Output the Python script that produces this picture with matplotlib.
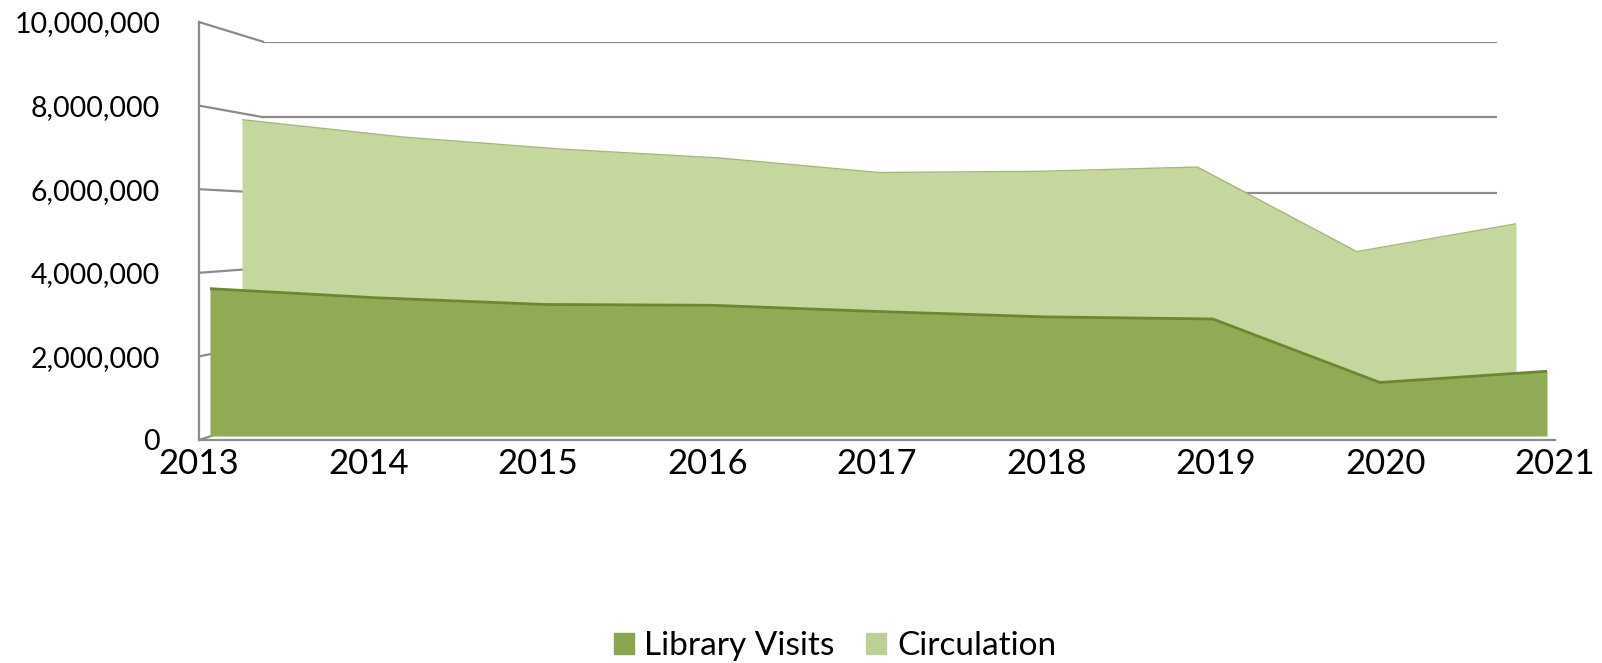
import matplotlib
matplotlib.use('Agg')
import matplotlib.pyplot as plt
from matplotlib.lines import Line2D
from matplotlib.patches import Patch
from matplotlib.ticker import FuncFormatter

years = [2013, 2014, 2015, 2016, 2017, 2018, 2019, 2020, 2021]
library_visits = [3550000, 3330000, 3170000, 3150000, 3000000, 2870000, 2820000, 1290000, 1560000]
circulation = [7840000, 7400000, 7090000, 6860000, 6490000, 6520000, 6630000, 4470000, 5180000]
yticks = [0, 2000000, 4000000, 6000000, 8000000, 10000000]

plt.rcParams['font.family'] = ['Lato', 'DejaVu Sans']

W, H = 1602, 663
fig = plt.figure(figsize=(W / 100, H / 100), dpi=100)


def rect(x0, x1, ytop, ybot):
    # pixel box -> figure fraction
    return [x0 / W, 1 - ybot / H, (x1 - x0) / W, (ybot - ytop) / H]


# back wall with the gridlines
ax_back = fig.add_axes(rect(263, 1497, 41.7, 419))
ax_back.set_ylim(0, 10000000)
ax_back.set_xlim(0, 1)
for v in yticks:
    ax_back.axhline(v, color='#8c8c8c', lw=1.6)
ax_back.axis('off')

# circulation series (back row)
ax_circ = fig.add_axes(rect(242, 1516, 35.1, 426.6))
ax_circ.fill_between(years, circulation, 0, color='#c4d79c', lw=0)
ax_circ.plot(years, circulation, color='#a3b87a', lw=1)
ax_circ.set_xlim(2013, 2021)
ax_circ.set_ylim(0, 10000000)
ax_circ.axis('off')

# library visits (front row)
ax_lib = fig.add_axes(rect(210, 1547, 21, 436))
ax_lib.fill_between(years, library_visits, 0, color='#8fab53', lw=0)
ax_lib.plot(years, library_visits, color='#6b8733', lw=2)
ax_lib.set_xlim(2013, 2021)
ax_lib.set_ylim(0, 10000000)
ax_lib.axis('off')

# front axis with labels
ax = fig.add_axes(rect(199, 1555, 22, 440))
ax.patch.set_alpha(0)
ax.set_xlim(2013, 2021)
ax.set_ylim(0, 10000000)
ax.set_xticks(years)
ax.set_yticks(yticks)
ax.yaxis.set_major_formatter(FuncFormatter(lambda v, p: '{:,.0f}'.format(v)))
ax.tick_params(axis='y', length=0, pad=28, labelsize=20.5)
ax.tick_params(axis='x', length=0, pad=6, labelsize=25)
for s in ['top', 'right']:
    ax.spines[s].set_visible(False)
ax.spines['left'].set_color('#8c8c8c')
ax.spines['bottom'].set_color('#8c8c8c')
ax.spines['left'].set_linewidth(1.6)
ax.spines['bottom'].set_linewidth(1.6)

# side wall lines from front ticks to back gridlines
fig.canvas.draw()
inv = fig.transFigure.inverted()
for v in yticks:
    p0 = inv.transform(ax.transData.transform((2013, v)))
    p1 = inv.transform(ax_back.transData.transform((0, v)))
    fig.add_artist(Line2D([p0[0], p1[0]], [p0[1], p1[1]], color='#8c8c8c',
                          lw=1.6, zorder=-1))

handles = [Patch(color='#8aa64e', label='Library Visits'),
           Patch(color='#bccf97', label='Circulation')]
fig.legend(handles=handles, loc='center', bbox_to_anchor=(835 / W, 1 - 646 / H),
           ncol=2, frameon=False, fontsize=24, handlelength=0.6, handleheight=0.6,
           handletextpad=0.32, columnspacing=0.95)

fig.savefig('out.png', dpi=100)
